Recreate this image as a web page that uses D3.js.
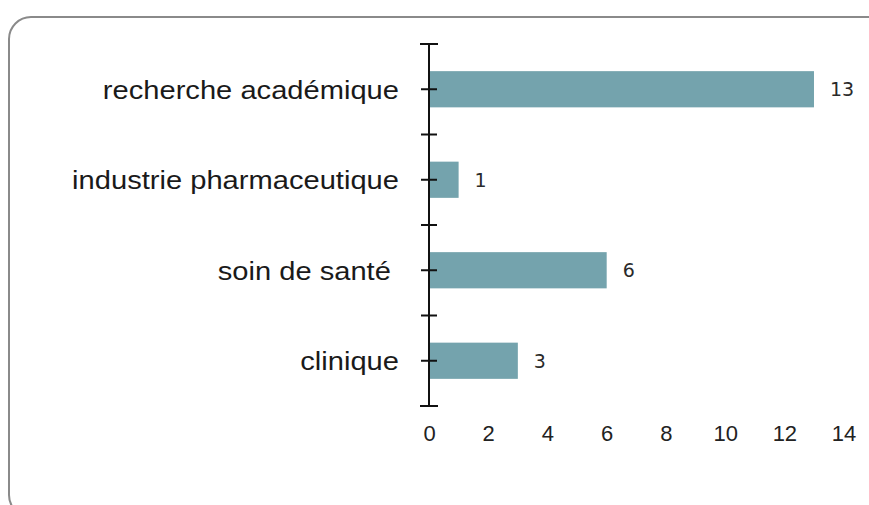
<!DOCTYPE html>
<html>
<head>
<meta charset="utf-8">
<script src="https://cdn.jsdelivr.net/npm/d3@7"></script>
<style>
  html, body { margin: 0; padding: 0; background: #fff; }
  svg { display: block; }
  .cat { white-space: pre; }
</style>
</head>
<body>
<svg id="chart" width="869" height="505"></svg>
<script>
const categories = ["recherche académique", "industrie pharmaceutique", "soin de santé ", "clinique"];
const values = [13, 1, 6, 3];
const xTicks = [0, 2, 4, 6, 8, 10, 12, 14];

const svg = d3.select("#chart");

// frame
svg.append("rect")
  .attr("x", 9).attr("y", 17)
  .attr("width", 880).attr("height", 500)
  .attr("rx", 22).attr("ry", 22)
  .attr("fill", "#fff")
  .attr("stroke", "#8a8a8a")
  .attr("stroke-width", 2);

const x = d3.scaleLinear().domain([0, 14]).range([429, 843.6]);
const y = d3.scaleBand().domain(categories).range([44, 406])
  .paddingInner(0.6).paddingOuter(0.3);

// bars
svg.selectAll("rect.bar").data(categories).enter().append("rect")
  .attr("class", "bar")
  .attr("x", x(0))
  .attr("y", d => y(d))
  .attr("width", (d, i) => x(values[i]) - x(0))
  .attr("height", y.bandwidth())
  .attr("fill", "#74a3ad");

// y axis line
const yAxis = d3.axisLeft(y).tickSize(0).tickFormat("");
const ga = svg.append("g").attr("transform", `translate(${x(0)},0)`).call(yAxis);
ga.select(".domain").attr("stroke", "#111").attr("stroke-width", 2).attr("d", `M0,${y.range()[0]}V${y.range()[1]}`);

// separator ticks
const step = y.step();
const bounds = d3.range(categories.length + 1).map(i => y.range()[0] + i * step);
svg.selectAll("line.sep").data(bounds).enter().append("line")
  .attr("x1", (d, i) => x(0) - ((i === 0 || i === bounds.length - 1) ? 9 : 8))
  .attr("x2", (d, i) => x(0) + ((i === 0 || i === bounds.length - 1) ? 9 : 8))
  .attr("y1", d => d).attr("y2", d => d)
  .attr("stroke", "#111").attr("stroke-width", 2);

// center ticks
svg.selectAll("line.ctr").data(categories).enter().append("line")
  .attr("x1", x(0) - 8).attr("x2", x(0) + 8)
  .attr("y1", d => y(d) + y.bandwidth() / 2)
  .attr("y2", d => y(d) + y.bandwidth() / 2)
  .attr("stroke", "#111").attr("stroke-width", 2);

// category labels
svg.selectAll("text.cat").data(categories).enter().append("text")
  .attr("class", "cat")
  .attr("transform", d => `translate(399,${y(d) + y.bandwidth() / 2}) scale(1.12,1)`)
  .attr("text-anchor", "end")
  .attr("dy", "0.36em")
  .attr("font-family", "Liberation Sans, Arial, sans-serif")
  .attr("font-size", 26)
  .attr("fill", "#1a1a1a")
  .text(d => d);

// value labels
svg.selectAll("text.val").data(categories).enter().append("text")
  .attr("class", "val")
  .attr("x", (d, i) => x(values[i]) + 16)
  .attr("y", d => y(d) + y.bandwidth() / 2)
  .attr("dy", "0.36em")
  .attr("font-family", "DejaVu Sans, sans-serif")
  .attr("font-size", 19)
  .attr("fill", "#2a2a2a")
  .text((d, i) => values[i]);

// x tick labels
const xAxis = d3.axisBottom(x).tickValues(xTicks).tickSize(0).tickPadding(0);
const gx = svg.append("g").attr("transform", "translate(0,433)").call(xAxis);
gx.select(".domain").remove();
gx.selectAll("text")
  .attr("dy", "0.36em")
  .attr("y", 0)
  .attr("font-family", "Liberation Sans, Arial, sans-serif")
  .attr("font-size", 22)
  .attr("fill", "#222");
</script>
</body>
</html>
